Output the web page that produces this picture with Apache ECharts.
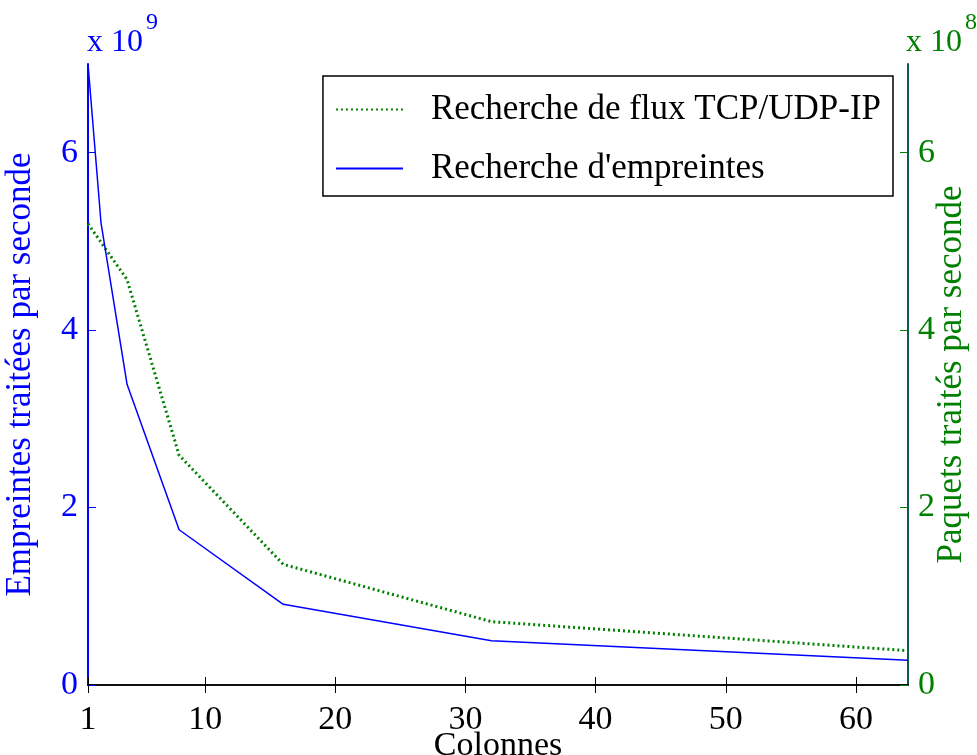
<!DOCTYPE html>
<html>
<head>
<meta charset="utf-8">
<script src="https://cdn.jsdelivr.net/npm/echarts@6/dist/echarts.min.js"></script>
<style>
  html, body { margin: 0; padding: 0; background: #fff; }
  #chart { width: 977px; height: 755px; }
</style>
</head>
<body>
<div id="chart"></div>
<script>
// nombre de colonnes
const columns = [1, 2, 4, 8, 16, 32, 64];
// empreintes / s  (x 10^9)
const fingerprints = [7.0, 5.21, 3.39, 1.75, 0.91, 0.50, 0.28];
// paquets / s  (x 10^8)
const packets = [5.2, 4.99, 4.57, 2.59, 1.36, 0.714, 0.387];
const xTicks = [1, 10, 20, 30, 40, 50, 60];
const yTicks = [0, 2, 4, 6];

const FONT = '"Liberation Serif", "DejaVu Serif", serif';
const BLUE = '#0000ff';
const GREEN = '#008000';

const chart = echarts.init(document.getElementById('chart'));

const xCommon = {
    type: 'value',
    min: 1,
    max: 64,
    axisLine: { lineStyle: { color: '#000', width: 1.5 } },
    axisTick: { inside: true, length: 8, customValues: xTicks, lineStyle: { color: '#000' } },
    splitLine: { show: false }
};

const yCommon = (color, name, gap) => ({
    type: 'value',
    min: 0,
    max: 7,
    name: name,
    nameLocation: 'middle',
    nameGap: gap,
    nameMoveOverlap: false,
    nameTextStyle: { color: color, fontFamily: FONT, fontSize: 35 },
    axisLine: { show: true, lineStyle: { color: color, width: 2 } },
    axisTick: { inside: true, length: 8, customValues: yTicks, lineStyle: { color: color } },
    axisLabel: { customValues: yTicks, color: color, fontFamily: FONT, fontSize: 34, margin: 10 },
    splitLine: { show: false }
});

// "x 10^n" au-dessus des axes
const multiplier = (x, color, exp) => [
    { type: 'text', left: x, top: 27, style: { text: 'x 10', fill: color, font: '32px ' + FONT } },
    { type: 'text', left: x + 59, top: 11, style: { text: exp, fill: color, font: '24px ' + FONT } }
];

const option = {
    animation: false,
    backgroundColor: '#fff',
    grid: { left: 88, right: 69, top: 64, bottom: 70, containLabel: false, outerBoundsMode: 'none' },
    legend: {
        orient: 'vertical',
        right: 84,
        top: 76,
        padding: [16, 12, 10, 12],
        itemGap: 24,
        itemWidth: 67,
        itemHeight: 20,
        borderColor: '#000',
        borderWidth: 1.5,
        backgroundColor: '#fff',
        itemStyle: { opacity: 0 },
        data: ['Recherche de flux TCP/UDP-IP', "Recherche d'empreintes"],
        textStyle: { fontFamily: FONT, fontSize: 35, color: '#000', padding: [0, 0, 0, 23] }
    },
    xAxis: [
        Object.assign({}, xCommon, {
            position: 'bottom',
            name: 'Colonnes',
            nameLocation: 'middle',
            nameGap: 44,
            nameMoveOverlap: false,
            nameTextStyle: { color: '#000', fontFamily: FONT, fontSize: 34, verticalAlign: 'top' },
            axisLabel: { customValues: xTicks, color: '#000', fontFamily: FONT, fontSize: 34, margin: 18 }
        }),
        Object.assign({}, xCommon, {
            position: 'top',
            axisLabel: { show: false }
        })
    ],
    yAxis: [
        Object.assign(yCommon(BLUE, 'Empreintes traitées par seconde', 50), { position: 'left' }),
        Object.assign(yCommon(GREEN, 'Paquets traités par seconde', 26), {
            position: 'right',
            axisLine: { show: true, lineStyle: { color: '#0b5a4b', width: 2 } }
        })
    ],
    graphic: multiplier(87, BLUE, '9').concat(multiplier(906, GREEN, '8')),
    series: [
        {
            name: 'Recherche de flux TCP/UDP-IP',
            type: 'line',
            xAxisIndex: 0,
            yAxisIndex: 1,
            symbol: 'none',
            color: GREEN,
            lineStyle: { color: GREEN, width: 3, type: [2, 3] },
            data: columns.map((c, i) => [c, packets[i]])
        },
        {
            name: "Recherche d'empreintes",
            type: 'line',
            xAxisIndex: 0,
            yAxisIndex: 0,
            symbol: 'none',
            color: BLUE,
            lineStyle: { color: BLUE, width: 1.5 },
            data: columns.map((c, i) => [c, fingerprints[i]])
        }
    ]
};

chart.setOption(option);
</script>
</body>
</html>
